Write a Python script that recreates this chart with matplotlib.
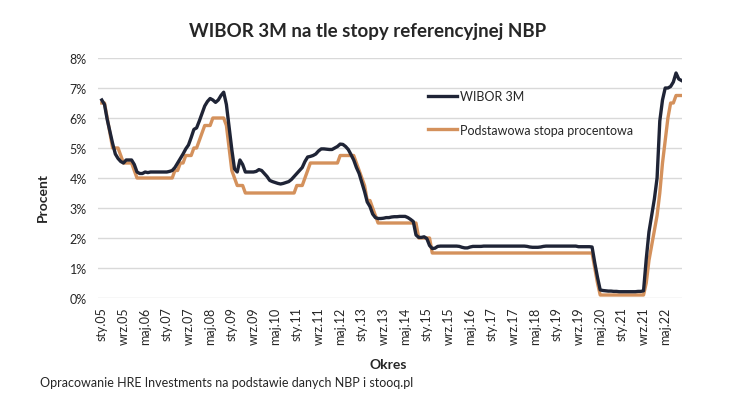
import matplotlib
matplotlib.use('Agg')
import matplotlib.pyplot as plt

# miesiace od sty.2005 do lis.2022
start_year = 2005
month_names = ['sty', 'lut', 'mar', 'kwi', 'maj', 'cze', 'lip', 'sie', 'wrz', 'paź', 'lis', 'gru']

# WIBOR 3M (%), rok po roku
wibor_3m = [
    6.6, 6.45, 5.95, 5.55, 5.15, 4.8, 4.65, 4.55, 4.5, 4.6, 4.6, 4.6,          # 2005
    4.45, 4.2, 4.15, 4.15, 4.2, 4.18, 4.2, 4.2, 4.2, 4.2, 4.2, 4.2,            # 2006
    4.2, 4.22, 4.25, 4.35, 4.5, 4.65, 4.8, 4.97, 5.1, 5.35, 5.62, 5.67,        # 2007
    5.9, 6.15, 6.4, 6.55, 6.65, 6.6, 6.52, 6.6, 6.75, 6.86, 6.45, 5.7,         # 2008
    4.95, 4.3, 4.2, 4.6, 4.45, 4.2, 4.2, 4.2, 4.2, 4.22, 4.28, 4.25,           # 2009
    4.15, 4.05, 3.92, 3.88, 3.85, 3.82, 3.8, 3.82, 3.85, 3.88, 3.95, 4.05,     # 2010
    4.15, 4.25, 4.35, 4.55, 4.7, 4.72, 4.75, 4.8, 4.9, 4.97, 4.97, 4.96,       # 2011
    4.95, 4.95, 5.0, 5.05, 5.13, 5.12, 5.05, 4.95, 4.78, 4.6, 4.35, 4.15,      # 2012
    3.85, 3.55, 3.2, 3.05, 2.8, 2.68, 2.65, 2.65, 2.66, 2.68, 2.68, 2.7,       # 2013
    2.71, 2.71, 2.72, 2.72, 2.72, 2.68, 2.62, 2.55, 2.1, 2.02, 2.02, 2.04,     # 2014
    1.98, 1.75, 1.65, 1.66, 1.72, 1.73, 1.73, 1.73, 1.73, 1.73, 1.73, 1.73,    # 2015
    1.72, 1.69, 1.67, 1.67, 1.7, 1.72, 1.72, 1.72, 1.72, 1.73, 1.73, 1.73,     # 2016
    1.73, 1.73, 1.73, 1.73, 1.73, 1.73, 1.73, 1.73, 1.73, 1.73, 1.73, 1.73,    # 2017
    1.73, 1.72, 1.7, 1.69, 1.69, 1.69, 1.7, 1.72, 1.73, 1.73, 1.73, 1.73,      # 2018
    1.73, 1.73, 1.73, 1.73, 1.73, 1.73, 1.73, 1.73, 1.71, 1.71, 1.71, 1.71,    # 2019
    1.71, 1.7, 1.17, 0.69, 0.27, 0.25, 0.24, 0.23, 0.23, 0.22, 0.22, 0.21,     # 2020
    0.21, 0.21, 0.21, 0.21, 0.21, 0.21, 0.22, 0.22, 0.24, 1.3, 2.2, 2.75,      # 2021
    3.3, 4.0, 5.9, 6.6, 7.0, 7.0, 7.05, 7.2, 7.5, 7.3, 7.25,                   # 2022
]

# stopa referencyjna NBP (%)
stopa_nbp = [
    6.5, 6.5, 6.0, 5.5, 5.0, 5.0, 5.0, 4.75, 4.5, 4.5, 4.5, 4.5,               # 2005
    4.25, 4.0, 4.0, 4.0, 4.0, 4.0, 4.0, 4.0, 4.0, 4.0, 4.0, 4.0,               # 2006
    4.0, 4.0, 4.0, 4.25, 4.25, 4.5, 4.5, 4.75, 4.75, 4.75, 5.0, 5.0,           # 2007
    5.25, 5.5, 5.75, 5.75, 5.75, 6.0, 6.0, 6.0, 6.0, 6.0, 5.75, 5.0,           # 2008
    4.25, 4.0, 3.75, 3.75, 3.75, 3.5, 3.5, 3.5, 3.5, 3.5, 3.5, 3.5,            # 2009
    3.5, 3.5, 3.5, 3.5, 3.5, 3.5, 3.5, 3.5, 3.5, 3.5, 3.5, 3.5,                # 2010
    3.75, 3.75, 3.75, 4.0, 4.25, 4.5, 4.5, 4.5, 4.5, 4.5, 4.5, 4.5,            # 2011
    4.5, 4.5, 4.5, 4.5, 4.75, 4.75, 4.75, 4.75, 4.75, 4.75, 4.5, 4.25,         # 2012
    4.0, 3.75, 3.25, 3.25, 3.0, 2.75, 2.5, 2.5, 2.5, 2.5, 2.5, 2.5,            # 2013
    2.5, 2.5, 2.5, 2.5, 2.5, 2.5, 2.5, 2.5, 2.5, 2.0, 2.0, 2.0,                # 2014
    2.0, 2.0, 1.5, 1.5, 1.5, 1.5, 1.5, 1.5, 1.5, 1.5, 1.5, 1.5,                # 2015
    1.5, 1.5, 1.5, 1.5, 1.5, 1.5, 1.5, 1.5, 1.5, 1.5, 1.5, 1.5,                # 2016
    1.5, 1.5, 1.5, 1.5, 1.5, 1.5, 1.5, 1.5, 1.5, 1.5, 1.5, 1.5,                # 2017
    1.5, 1.5, 1.5, 1.5, 1.5, 1.5, 1.5, 1.5, 1.5, 1.5, 1.5, 1.5,                # 2018
    1.5, 1.5, 1.5, 1.5, 1.5, 1.5, 1.5, 1.5, 1.5, 1.5, 1.5, 1.5,                # 2019
    1.5, 1.5, 1.0, 0.5, 0.1, 0.1, 0.1, 0.1, 0.1, 0.1, 0.1, 0.1,                # 2020
    0.1, 0.1, 0.1, 0.1, 0.1, 0.1, 0.1, 0.1, 0.1, 0.5, 1.25, 1.75,              # 2021
    2.25, 2.75, 3.5, 4.5, 5.25, 6.0, 6.5, 6.5, 6.75, 6.75, 6.75,               # 2022
]

tick_step = 8
y_ticks = [0, 1, 2, 3, 4, 5, 6, 7, 8]

months = list(range(len(wibor_3m)))
labels = ['%s.%02d' % (month_names[m % 12], (start_year + m // 12) % 100) for m in months]

text_color = '#262626'
plt.rcParams['font.family'] = ['Lato', 'DejaVu Sans']

fig = plt.figure(figsize=(7.32, 4.02), dpi=100)
ax = fig.add_axes([98 / 732, 1 - 299 / 402, 584 / 732, 240 / 402])

ax.plot(months, stopa_nbp, color='#d4915c', linewidth=2.4, label='Podstawowa stopa procentowa', zorder=3)
ax.plot(months, wibor_3m, color='#1f2436', linewidth=2.4, label='WIBOR 3M', zorder=4)

ax.set_xlim(-1.4, len(months) - 0.8)
ax.set_ylim(0, 8)
ax.set_yticks(y_ticks)
ax.set_yticklabels(['%d%%' % v for v in y_ticks])
ax.set_xticks(months[::tick_step])
ax.set_xticklabels(labels[::tick_step], rotation=90)

ax.grid(axis='y', color='#d9d9d9', linewidth=1)
ax.set_axisbelow(True)
for side in ['top', 'right', 'left', 'bottom']:
    ax.spines[side].set_visible(False)
ax.tick_params(axis='both', length=0, labelsize=9, labelcolor=text_color)
ax.tick_params(axis='y', pad=8)
ax.tick_params(axis='x', pad=6)

# legenda w kolejnosci: WIBOR, stopa
handles, names = ax.get_legend_handles_labels()
ax.legend(handles[::-1], names[::-1], loc='upper left', bbox_to_anchor=(0.565, 0.865),
          frameon=False, fontsize=9, handlelength=2.3, handletextpad=0.3,
          labelspacing=1.7, borderpad=0, borderaxespad=0, labelcolor=text_color)

fig.text(368 / 732, 1 - 32 / 402, 'WIBOR 3M na tle stopy referencyjnej NBP',
         ha='center', va='center', fontsize=13.5, fontweight='bold', color=text_color)
fig.text(43 / 732, 1 - 197 / 402, 'Procent', rotation=90, ha='center', va='center',
         fontsize=10, fontweight='bold', color=text_color)
fig.text(388 / 732, 1 - 365 / 402, 'Okres', ha='center', va='center',
         fontsize=10, fontweight='bold', color=text_color)
fig.text(40 / 732, 1 - 383 / 402, 'Opracowanie HRE Investments na podstawie danych NBP i stooq.pl',
         ha='left', va='center', fontsize=9, color=text_color)

fig.savefig('out.png', dpi=100)
